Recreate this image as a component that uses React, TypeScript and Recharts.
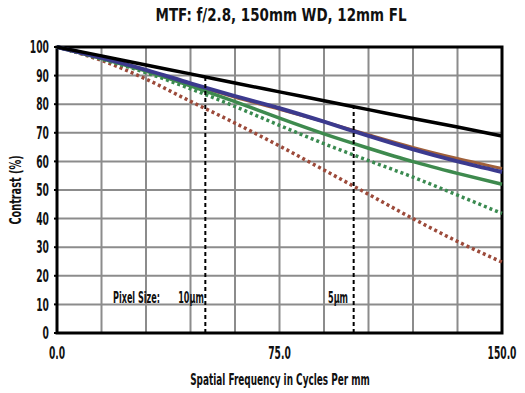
import { LineChart, Line, XAxis, YAxis, CartesianGrid, ReferenceLine, ReferenceArea, ReferenceDot } from 'recharts';

const FONT = "'DejaVu Sans Condensed', sans-serif";

// spatial frequency, cycles per mm
const freq = [0, 15, 30, 45, 60, 75, 90, 105, 120, 135, 150];

// contrast (%) for each curve
const diffLimit = [100, 96.9, 93.7, 90.6, 87.4, 84.3, 81.2, 78.1, 75.0, 72.0, 68.9];
const blueSolid = [100, 96.2, 92.0, 87.3, 82.8, 78.6, 73.9, 68.9, 64.2, 60.0, 56.3];
const brownSolid = [100, 96.1, 91.8, 87.0, 82.4, 78.2, 73.9, 69.3, 64.9, 61.0, 57.5];
const greenSolid = [100, 96.0, 91.6, 86.4, 80.9, 75.1, 69.6, 64.6, 59.9, 55.8, 52.0];
const greenDotted = [100, 95.8, 91.0, 85.4, 79.2, 72.6, 66.2, 60.3, 54.5, 48.2, 41.8];
const redDotted = [100, 95.3, 88.8, 81.0, 73.4, 65.4, 57.0, 48.5, 40.0, 32.0, 24.8];

const xTicks = [0, 15, 30, 45, 60, 75, 90, 105, 120, 135, 150];
const xLabels = [0, 75, 150];
const yTicks = [0, 10, 20, 30, 40, 50, 60, 70, 80, 90, 100];

// pixel size markers: frequency and height of the dashed line
const pixelMarks = [50, 100];
const pixelTops = [89.5, 79.2];
const pixelTexts = [
  { f: 34.7, text: 'Pixel Size:' },
  { f: 49.5, text: '10µm' },
  { f: 98.1, text: '5µm' },
];

const data = freq.map((f, i) => ({
  f,
  diff: diffLimit[i],
  blue: blueSolid[i],
  brown: brownSolid[i],
  green: greenSolid[i],
  greenDot: greenDotted[i],
  redDot: redDotted[i],
}));

const YTick = ({ x, y, payload }: any) => (
  <g transform={`translate(${x},${y})`}>
    <text transform="scale(0.6,1)" textAnchor="end" dy="0.36em" fill="#111" fontSize={17} fontWeight={700} fontFamily={FONT}>
      {payload.value}
    </text>
  </g>
);

const XTick = ({ x, y, payload }: any) =>
  xLabels.includes(payload.value) ? (
    <g transform={`translate(${x},${y})`}>
      <text transform="scale(0.6,1)" textAnchor="middle" dy="0.71em" fill="#111" fontSize={17} fontWeight={700} fontFamily={FONT}>
        {payload.value.toFixed(1)}
      </text>
    </g>
  ) : (
    <g />
  );

const noteLabel = (text: string) => ({ viewBox }: any) => (
  <g transform={`translate(${viewBox.x},${viewBox.y})`}>
    <text transform="scale(0.58,1)" textAnchor="end" dy="0.36em" fill="#111" fontSize={15.5} fontWeight={700} fontFamily={FONT}>
      {text}
    </text>
  </g>
);

export default function App() {
  const text = { position: 'absolute' as const, fontFamily: FONT, fontWeight: 700, color: '#111', whiteSpace: 'nowrap' as const };
  return (
    <div style={{ position: 'absolute', left: 0, top: 0, width: 525, height: 393, background: '#fff' }}>
      <div style={{ ...text, left: 281, top: 14, fontSize: 18, transform: 'translate(-50%, -50%) scaleX(0.83)' }}>
        MTF: f/2.8, 150mm WD, 12mm FL
      </div>
      <div style={{ ...text, left: 280, top: 380, fontSize: 15, transform: 'translate(-50%, -50%) scaleX(0.66)' }}>
        Spatial Frequency in Cycles Per mm
      </div>
      <div style={{ ...text, left: 16, top: 190, fontSize: 15, transform: 'translate(-50%, -50%) rotate(-90deg) scaleX(0.72)' }}>
        Contrast (%)
      </div>
      <LineChart width={525} height={393} data={data} margin={{ top: 47, right: 23, bottom: 30, left: 0 }}>
        <CartesianGrid stroke="#8c8c8c" strokeWidth={2} />
        <XAxis
          dataKey="f"
          type="number"
          domain={[0, 150]}
          ticks={xTicks}
          interval={0}
          height={30}
          tickLine={false}
          axisLine={false}
          tickMargin={8}
          tick={<XTick />}
        />
        <XAxis
          xAxisId="inner"
          type="number"
          domain={[0, 150]}
          ticks={xTicks}
          interval={0}
          mirror
          tick={false}
          tickSize={7}
          tickLine={{ stroke: '#000', strokeWidth: 2 }}
          axisLine={false}
          height={0}
        />
        <YAxis
          type="number"
          domain={[0, 100]}
          ticks={yTicks}
          interval={0}
          width={57}
          tickSize={3}
          tickMargin={5}
          tickLine={{ stroke: '#000', strokeWidth: 2 }}
          axisLine={false}
          tick={<YTick />}
        />
        <YAxis
          yAxisId="r"
          orientation="right"
          type="number"
          domain={[0, 100]}
          ticks={yTicks}
          interval={0}
          mirror
          width={0}
          tick={false}
          tickSize={7}
          tickLine={{ stroke: '#000', strokeWidth: 2 }}
          axisLine={false}
        />
        <Line type="monotone" dataKey="redDot" stroke="#9c4a3a" strokeWidth={3.5} strokeDasharray="3 3" dot={false} isAnimationActive={false} />
        <Line type="monotone" dataKey="greenDot" stroke="#3a8a50" strokeWidth={3.5} strokeDasharray="3 3" dot={false} isAnimationActive={false} />
        <Line type="monotone" dataKey="brown" stroke="#a0603a" strokeWidth={3} dot={false} isAnimationActive={false} />
        <Line type="monotone" dataKey="green" stroke="#3e8a4e" strokeWidth={3.5} dot={false} isAnimationActive={false} />
        <Line type="monotone" dataKey="blue" stroke="#3c3a8e" strokeWidth={4} dot={false} isAnimationActive={false} />
        <Line type="monotone" dataKey="diff" stroke="#000" strokeWidth={3.5} dot={false} isAnimationActive={false} />
        {pixelMarks.map((f, i) => (
          <ReferenceLine
            key={f}
            segment={[{ x: f, y: 0 }, { x: f, y: pixelTops[i] }]}
            stroke="#000"
            strokeWidth={2}
            strokeDasharray="4 3"
          />
        ))}
        {pixelTexts.map((t) => (
          <ReferenceDot key={t.text} x={t.f} y={12.6} r={0} fill="none" stroke="none" label={noteLabel(t.text)} />
        ))}
        <ReferenceArea x1={0} x2={150} y1={0} y2={100} fill="none" stroke="#000" strokeWidth={3} ifOverflow="visible" />
      </LineChart>
    </div>
  );
}
